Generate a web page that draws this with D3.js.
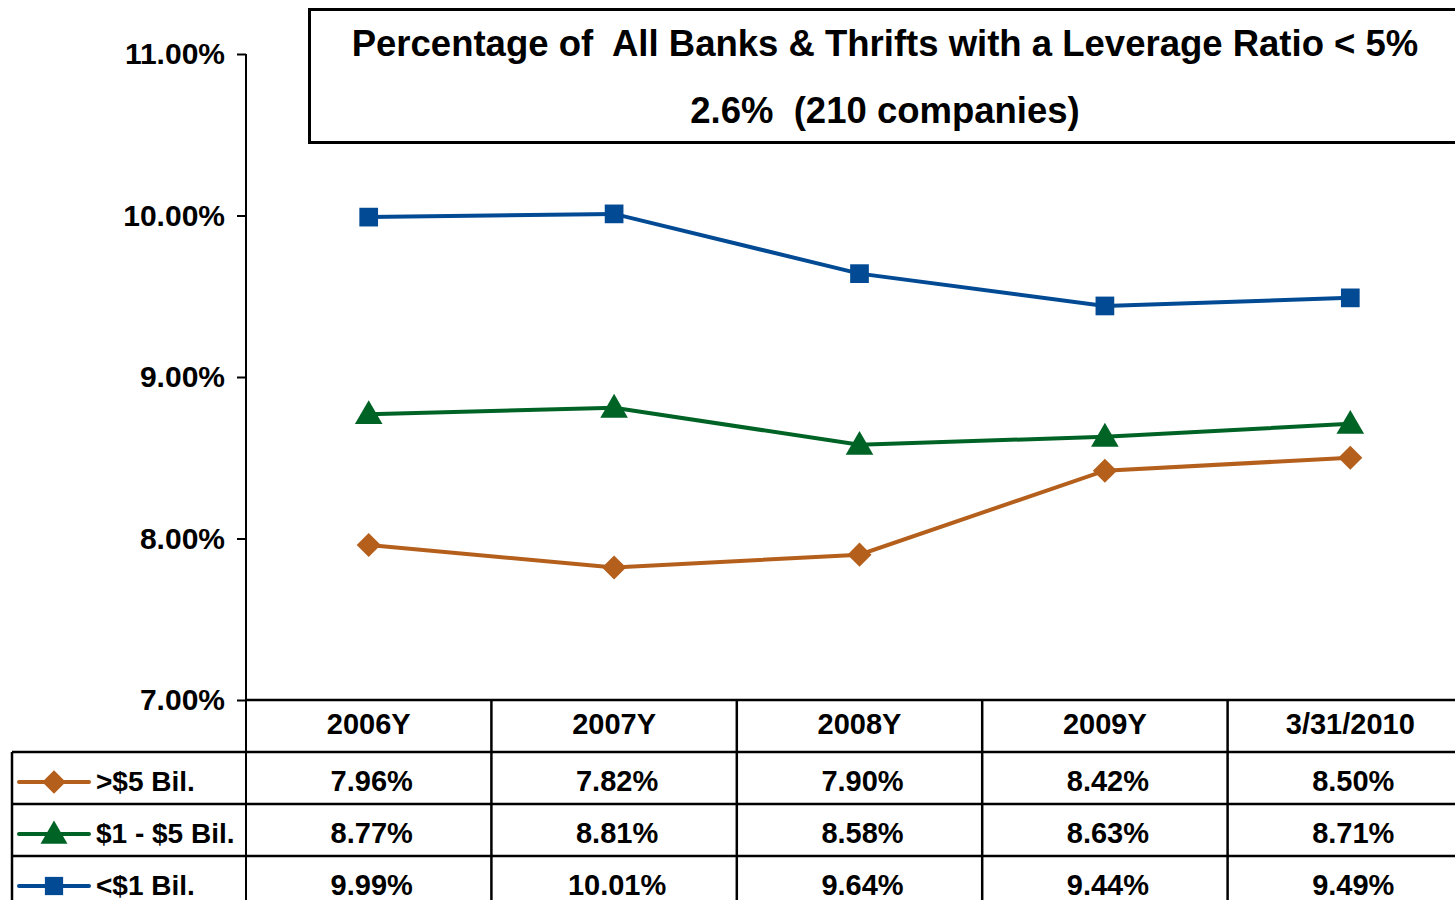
<!DOCTYPE html>
<html>
<head>
<meta charset="utf-8">
<script src="https://cdn.jsdelivr.net/npm/d3@7"></script>
<style>
  body { margin: 0; background: #fff; }
  svg { display: block; font-family: Arial, "Liberation Sans", sans-serif; font-weight: bold; }
  .tick text { font-size: 30px; fill: #000; }
  .tick line { stroke: #000; stroke-width: 2; }
</style>
</head>
<body>
<div id="chart"></div>
<script>
// periods and series values (percent)
var periods = ["2006Y", "2007Y", "2008Y", "2009Y", "3/31/2010"];
var over5 = [7.96, 7.82, 7.90, 8.42, 8.50];
var oneTo5 = [8.77, 8.81, 8.58, 8.63, 8.71];
var under1 = [9.99, 10.01, 9.64, 9.44, 9.49];
var seriesNames = [">$5 Bil.", "$1 - $5 Bil.", "<$1 Bil."];
var yTicks = [7, 8, 9, 10, 11];
var titleLines = ["Percentage of  All Banks & Thrifts with a Leverage Ratio < 5%", "2.6%  (210 companies)"];

var svgWidth = 1455;
var svgHeight = 900;

var series = [
  { name: seriesNames[0], values: over5, color: "#B45F1C", symbol: d3.symbolSquare, size: 290, rotate: 45, dy: 0 },
  { name: seriesNames[1], values: oneTo5, color: "#006326", symbol: d3.symbolTriangle, size: 330, rotate: 0, dy: 2 },
  { name: seriesNames[2], values: under1, color: "#024B94", symbol: d3.symbolSquare, size: 350, rotate: 0, dy: 0 }
];

var svg = d3.select("#chart")
  .append("svg")
  .attr("width", svgWidth)
  .attr("height", svgHeight);

// scales
var axisX = 246;
var xScale = d3.scaleBand()
  .domain(periods)
  .range([axisX, axisX + 5 * 245.4]);

var yScale = d3.scaleLinear()
  .domain([7, 11])
  .range([700, 54]);

var cx = d => xScale(d) + xScale.bandwidth() / 2;

// title box
svg.append("rect")
  .attr("x", 309.5)
  .attr("y", 9.5)
  .attr("width", 1200)
  .attr("height", 133)
  .attr("fill", "none")
  .attr("stroke", "#000")
  .attr("stroke-width", 3);

svg.selectAll(".title")
  .data(titleLines)
  .enter()
  .append("text")
  .attr("class", "title")
  .attr("x", 885)
  .attr("y", (d, i) => 56 + i * 67)
  .attr("text-anchor", "middle")
  .attr("font-size", 36.5)
  .style("white-space", "pre")
  .text(d => d);

// y axis
var leftAxis = d3.axisLeft(yScale)
  .tickValues(yTicks)
  .tickSize(9)
  .tickPadding(12)
  .tickFormat(d => d.toFixed(2) + "%");

svg.append("g")
  .attr("transform", `translate(${axisX}, 0)`)
  .call(leftAxis)
  .call(g => g.select(".domain").remove());

svg.append("line")
  .attr("x1", axisX).attr("x2", axisX)
  .attr("y1", yScale(11)).attr("y2", svgHeight)
  .attr("stroke", "#000").attr("stroke-width", 2);

// data table grid
var grid = svg.append("g").attr("stroke", "#000").attr("stroke-width", 2.5);
var rowTop = i => 752 + i * 52;

grid.append("line")
  .attr("x1", axisX).attr("x2", svgWidth)
  .attr("y1", yScale(7)).attr("y2", yScale(7));

grid.selectAll(".hrow")
  .data(seriesNames)
  .enter()
  .append("line")
  .attr("x1", 12).attr("x2", svgWidth)
  .attr("y1", (d, i) => rowTop(i)).attr("y2", (d, i) => rowTop(i));

grid.append("line")
  .attr("x1", 12).attr("x2", 12)
  .attr("y1", rowTop(0)).attr("y2", svgHeight);

grid.selectAll(".vcol")
  .data(periods.slice(1))
  .enter()
  .append("line")
  .attr("x1", d => xScale(d)).attr("x2", d => xScale(d))
  .attr("y1", yScale(7)).attr("y2", svgHeight);

// header row
svg.selectAll(".period")
  .data(periods)
  .enter()
  .append("text")
  .attr("x", d => cx(d))
  .attr("y", 734)
  .attr("text-anchor", "middle")
  .attr("font-size", 29)
  .text(d => d);

// lines and markers
var line = d3.line()
  .x((d, i) => cx(periods[i]))
  .y(d => yScale(d));

series.forEach(function(s, si) {
  svg.append("path")
    .datum(s.values)
    .attr("fill", "none")
    .attr("stroke", s.color)
    .attr("stroke-width", 4)
    .attr("d", line);

  var sym = d3.symbol().type(s.symbol).size(s.size);
  svg.selectAll(".m" + si)
    .data(s.values)
    .enter()
    .append("path")
    .attr("transform", (d, i) => `translate(${cx(periods[i])}, ${yScale(d) + s.dy}) rotate(${s.rotate})`)
    .attr("fill", s.color)
    .attr("d", sym);

  // table row: legend key + values
  var rowY = rowTop(si) + 39;
  svg.append("line")
    .attr("x1", 19).attr("x2", 89)
    .attr("y1", rowY - 9).attr("y2", rowY - 9)
    .attr("stroke", s.color)
    .attr("stroke-width", 4)
    .attr("stroke-linecap", "round");
  svg.append("path")
    .attr("transform", `translate(54, ${rowY - 9 + s.dy}) rotate(${s.rotate})`)
    .attr("fill", s.color)
    .attr("d", d3.symbol().type(s.symbol).size(s.size * 0.95));
  svg.append("text")
    .attr("x", 96)
    .attr("y", rowY)
    .attr("font-size", 28)
    .text(s.name);

  svg.selectAll(".v" + si)
    .data(s.values)
    .enter()
    .append("text")
    .attr("x", (d, i) => cx(periods[i]) + 3)
    .attr("y", rowY)
    .attr("text-anchor", "middle")
    .attr("font-size", 29)
    .text(d => d.toFixed(2) + "%");
});
</script>
</body>
</html>
